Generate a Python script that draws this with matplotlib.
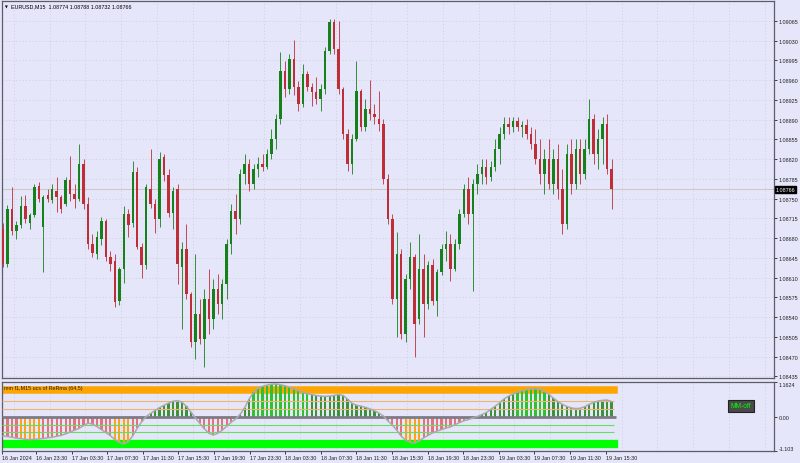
import matplotlib
matplotlib.use("Agg")
import matplotlib.pyplot as plt
import numpy as np
from matplotlib.transforms import blended_transform_factory

plt.rcParams["font.family"] = ["Liberation Sans", "DejaVu Sans"]

SYMBOL = "EURUSD,M15"
LAST_BAR = [1.08774, 1.08788, 1.08732, 1.08766]
LAST_PRICE = 1.08766
IND_NAME = "mm f1,M15 ucs of ReRma (64,5)"

# OHLC, one candle per half hour step on screen
opens = [
    1.08696, 1.08634, 1.08731, 1.08692, 1.08703, 1.08737, 1.08707, 1.08721, 1.08772, 1.08699,
    1.08756, 1.08747, 1.08763, 1.08753, 1.08740, 1.08783, 1.08758, 1.08749, 1.08811, 1.08740,
    1.08669, 1.08652, 1.08678, 1.08710, 1.08646, 1.08639, 1.08568, 1.08625, 1.08723, 1.08707,
    1.08797, 1.08665, 1.08632, 1.08767, 1.08740, 1.08714, 1.08823, 1.08792, 1.08724, 1.08767,
    1.08629, 1.08661, 1.08581, 1.08496, 1.08545, 1.08501, 1.08572, 1.08537, 1.08590, 1.08563,
    1.08598, 1.08669, 1.08728, 1.08714, 1.08793, 1.08811, 1.08776, 1.08802, 1.08811, 1.08806,
    1.08829, 1.08855, 1.08891, 1.08976, 1.08944, 1.08997, 1.08948, 1.08917, 1.08971, 1.08948,
    1.08939, 1.08926, 1.08944, 1.09011, 1.09062, 1.09015, 1.08944, 1.08864, 1.08811, 1.08855,
    1.08940, 1.08876, 1.08909, 1.08900, 1.08891, 1.08882, 1.08785, 1.08714, 1.08572, 1.08652,
    1.08510, 1.08607, 1.08646, 1.08537, 1.08625, 1.08563, 1.08632, 1.08568, 1.08620, 1.08661,
    1.08669, 1.08625, 1.08669, 1.08723, 1.08767, 1.08723, 1.08776, 1.08793, 1.08806, 1.08788,
    1.08806, 1.08838, 1.08864, 1.08882, 1.08876, 1.08887, 1.08876, 1.08880, 1.08864, 1.08847,
    1.08820, 1.08793, 1.08820, 1.08776, 1.08820, 1.08767, 1.08705, 1.08829, 1.08776, 1.08838,
    1.08793, 1.08838, 1.08891, 1.08829, 1.08855, 1.08882, 1.08802,
]
highs = [
    1.08707, 1.08738, 1.08770, 1.08710, 1.08754, 1.08756, 1.08724, 1.08776, 1.08779, 1.08756,
    1.08767, 1.08776, 1.08788, 1.08756, 1.08788, 1.08825, 1.08776, 1.08847, 1.08820, 1.08753,
    1.08687, 1.08692, 1.08717, 1.08714, 1.08657, 1.08652, 1.08629, 1.08737, 1.08731, 1.08816,
    1.08806, 1.08671, 1.08776, 1.08838, 1.08749, 1.08832, 1.08829, 1.08802, 1.08770, 1.08776,
    1.08673, 1.08705, 1.08584, 1.08652, 1.08572, 1.08590, 1.08625, 1.08607, 1.08616, 1.08607,
    1.08678, 1.08740, 1.08758, 1.08802, 1.08829, 1.08820, 1.08811, 1.08824, 1.08829, 1.08838,
    1.08873, 1.08900, 1.09010, 1.08994, 1.09006, 1.09031, 1.08958, 1.08988, 1.08976, 1.08955,
    1.08965, 1.08953, 1.09018, 1.09068, 1.09068, 1.09065, 1.08948, 1.08873, 1.08864, 1.08994,
    1.08944, 1.08926, 1.08960, 1.08917, 1.08940, 1.08891, 1.08793, 1.08723, 1.08691, 1.08661,
    1.08616, 1.08673, 1.08652, 1.08687, 1.08652, 1.08639, 1.08643, 1.08625, 1.08669, 1.08692,
    1.08687, 1.08678, 1.08731, 1.08776, 1.08788, 1.08785, 1.08811, 1.08820, 1.08820, 1.08816,
    1.08855, 1.08876, 1.08895, 1.08895, 1.08895, 1.08895, 1.08887, 1.08891, 1.08876, 1.08873,
    1.08855, 1.08838, 1.08855, 1.08838, 1.08847, 1.08802, 1.08847, 1.08855, 1.08855, 1.08855,
    1.08855, 1.08926, 1.08900, 1.08873, 1.08895, 1.08900, 1.08820,
]
lows = [
    1.08629, 1.08629, 1.08685, 1.08678, 1.08698, 1.08707, 1.08696, 1.08717, 1.08744, 1.08620,
    1.08744, 1.08742, 1.08726, 1.08724, 1.08737, 1.08746, 1.08733, 1.08746, 1.08731, 1.08661,
    1.08646, 1.08643, 1.08668, 1.08639, 1.08622, 1.08558, 1.08561, 1.08600, 1.08682, 1.08699,
    1.08661, 1.08609, 1.08625, 1.08733, 1.08689, 1.08699, 1.08781, 1.08717, 1.08696, 1.08598,
    1.08519, 1.08572, 1.08487, 1.08466, 1.08492, 1.08451, 1.08510, 1.08519, 1.08545, 1.08537,
    1.08572, 1.08652, 1.08687, 1.08705, 1.08776, 1.08763, 1.08767, 1.08788, 1.08799, 1.08802,
    1.08820, 1.08838, 1.08882, 1.08930, 1.08935, 1.08933, 1.08905, 1.08912, 1.08940, 1.08914,
    1.08917, 1.08905, 1.08935, 1.09006, 1.09006, 1.08935, 1.08855, 1.08799, 1.08793, 1.08852,
    1.08869, 1.08869, 1.08889, 1.08882, 1.08869, 1.08776, 1.08705, 1.08563, 1.08505, 1.08501,
    1.08496, 1.08590, 1.08469, 1.08528, 1.08505, 1.08554, 1.08561, 1.08541, 1.08614, 1.08639,
    1.08604, 1.08622, 1.08661, 1.08717, 1.08705, 1.08586, 1.08758, 1.08776, 1.08776, 1.08781,
    1.08799, 1.08811, 1.08855, 1.08864, 1.08868, 1.08869, 1.08859, 1.08855, 1.08838, 1.08811,
    1.08776, 1.08758, 1.08767, 1.08758, 1.08749, 1.08687, 1.08696, 1.08758, 1.08767, 1.08776,
    1.08785, 1.08829, 1.08811, 1.08802, 1.08811, 1.08793, 1.08731,
]
closes = [
    1.08634, 1.08731, 1.08692, 1.08703, 1.08737, 1.08714, 1.08721, 1.08770, 1.08749, 1.08753,
    1.08749, 1.08767, 1.08753, 1.08731, 1.08783, 1.08758, 1.08749, 1.08811, 1.08740, 1.08669,
    1.08653, 1.08682, 1.08710, 1.08646, 1.08634, 1.08567, 1.08625, 1.08723, 1.08703, 1.08797,
    1.08665, 1.08632, 1.08770, 1.08740, 1.08714, 1.08820, 1.08792, 1.08724, 1.08763, 1.08634,
    1.08661, 1.08581, 1.08496, 1.08545, 1.08501, 1.08572, 1.08537, 1.08590, 1.08563, 1.08598,
    1.08669, 1.08728, 1.08714, 1.08793, 1.08811, 1.08776, 1.08802, 1.08811, 1.08806, 1.08829,
    1.08855, 1.08891, 1.08976, 1.08944, 1.08997, 1.08948, 1.08917, 1.08971, 1.08948, 1.08939,
    1.08926, 1.08944, 1.09011, 1.09062, 1.09015, 1.08944, 1.08864, 1.08811, 1.08855, 1.08940,
    1.08876, 1.08909, 1.08900, 1.08895, 1.08882, 1.08785, 1.08714, 1.08572, 1.08652, 1.08510,
    1.08607, 1.08646, 1.08528, 1.08625, 1.08563, 1.08632, 1.08568, 1.08620, 1.08661, 1.08669,
    1.08625, 1.08669, 1.08723, 1.08767, 1.08723, 1.08776, 1.08793, 1.08806, 1.08788, 1.08806,
    1.08838, 1.08864, 1.08882, 1.08876, 1.08887, 1.08876, 1.08880, 1.08864, 1.08847, 1.08820,
    1.08793, 1.08820, 1.08776, 1.08820, 1.08767, 1.08705, 1.08829, 1.08776, 1.08838, 1.08793,
    1.08838, 1.08891, 1.08829, 1.08855, 1.08882, 1.08802, 1.08767,
]

# oscillator in the lower window
osc = [
    -0.61, -0.63, -0.65, -0.68, -0.70, -0.72, -0.73, -0.72, -0.71, -0.69,
    -0.67, -0.65, -0.62, -0.59, -0.54, -0.48, -0.42, -0.36, -0.27, -0.19,
    -0.22, -0.30, -0.40, -0.50, -0.60, -0.73, -0.82, -0.87, -0.80, -0.60,
    -0.36, -0.14, 0.03, 0.13, 0.23, 0.32, 0.40, 0.47, 0.53, 0.55,
    0.50, 0.36, 0.18, -0.02, -0.20, -0.37, -0.52, -0.58, -0.52, -0.42,
    -0.29, -0.16, -0.05, 0.10, 0.32, 0.60, 0.82, 0.96, 1.02, 1.06,
    1.09, 1.10, 1.07, 1.04, 0.99, 0.94, 0.88, 0.82, 0.78, 0.75,
    0.72, 0.70, 0.69, 0.70, 0.72, 0.75, 0.72, 0.60, 0.46, 0.40,
    0.37, 0.33, 0.28, 0.22, 0.14, 0.05, -0.11, -0.25, -0.42, -0.62,
    -0.75, -0.82, -0.84, -0.78, -0.67, -0.59, -0.51, -0.45, -0.40, -0.35,
    -0.31, -0.24, -0.17, -0.11, -0.07, -0.02, 0.03, 0.09, 0.16, 0.26,
    0.37, 0.48, 0.61, 0.70, 0.77, 0.83, 0.88, 0.91, 0.93, 0.94,
    0.92, 0.85, 0.76, 0.63, 0.52, 0.43, 0.36, 0.31, 0.29, 0.30,
    0.35, 0.43, 0.49, 0.54, 0.56, 0.57, 0.52,
]
OSC_MAX = 1.1624
OSC_MIN = -1.103
OSC_BAND_HI = 0.915
OSC_LINES_HI = [0.528, 0.275]
OSC_LINES_LO = [-0.24, -0.49]
OSC_BAND_LO = -0.87

price_ticks = [
    1.08435, 1.08470, 1.08505, 1.08540, 1.08575, 1.08610, 1.08645, 1.08680, 1.08715, 1.08750,
    1.08785, 1.08820, 1.08855, 1.08890, 1.08925, 1.08960, 1.08995, 1.09030, 1.09065,
]
time_labels = [
    "16 Jan 2024", "16 Jan 23:30", "17 Jan 03:30", "17 Jan 07:30", "17 Jan 11:30",
    "17 Jan 15:30", "17 Jan 19:30", "17 Jan 23:30", "18 Jan 03:30", "18 Jan 07:30",
    "18 Jan 11:30", "18 Jan 15:30", "18 Jan 19:30", "18 Jan 23:30", "19 Jan 03:30",
    "19 Jan 07:30", "19 Jan 11:30", "19 Jan 15:30",
]

BG = "#e6e6fa"
GRID = "#d0d0de"
FRAME = "#5c5c6a"
BULL = "#16801a"
BEAR = "#bd2e36"
FS = 3.9

o = np.array(opens)
h = np.array(highs)
l = np.array(lows)
c = np.array(closes)
v = np.array(osc)
x = np.arange(len(c))
XMIN, XMAX = -0.22, 172.3

fig = plt.figure(figsize=(8, 4.64), dpi=100, facecolor=BG)
ax = fig.add_axes([2 / 800, 85 / 464, 772 / 800, 377 / 464], facecolor=BG)
ax2 = fig.add_axes([2 / 800, 12 / 464, 772 / 800, 69 / 464], facecolor=BG)

grid_x = (11 + 35.75 * np.arange(22)) / 4.475
for a in (ax, ax2):
    a.set_xlim(XMIN, XMAX)
    for s in a.spines.values():
        s.set_color(FRAME)
        s.set_linewidth(0.9)
    a.vlines(grid_x, 0, 1, transform=blended_transform_factory(a.transData, a.transAxes),
             colors=GRID, lw=0.6, linestyles=(0, (1.5, 2.5)), zorder=0)

# main price window
ax.set_ylim(1.08432, 1.09100)
ax.hlines(price_ticks, XMIN, XMAX, colors=GRID, lw=0.6, linestyles=(0, (1.5, 2.5)), zorder=0)
ax.axhline(LAST_PRICE, color="#cfc5bd", lw=0.7, zorder=0.5)

up = c >= o
col = np.where(up, BULL, BEAR)
ax.vlines(x, l, h, colors=col, lw=0.6, zorder=2)
body = np.maximum(np.abs(c - o), 0.000012)
ax.bar(x, body, bottom=np.minimum(o, c), width=0.55, color=col, lw=0, zorder=3)

ax.yaxis.tick_right()
ax.set_yticks(price_ticks)
ax.set_yticklabels([f"{p:.5f}" for p in price_ticks])
ax.tick_params(axis="y", length=2, width=0.6, pad=1.5, labelsize=FS, colors="#202020")
ax.set_xticks([])

tr = blended_transform_factory(ax.transAxes, ax.transData)
ax.text(1.0025, LAST_PRICE, f"{LAST_PRICE:.5f}", transform=tr, ha="left", va="center",
        fontsize=FS, color="white",
        bbox=dict(boxstyle="square,pad=0.15", fc="black", ec="black"), zorder=5)

ax.text(0.004, 0.992, "\u25bc", transform=ax.transAxes, ha="left", va="top",
        fontsize=2.6, color="black", family=["DejaVu Sans"])
ax.text(0.012, 0.993, f"{SYMBOL}  " + " ".join(f"{p:.5f}" for p in LAST_BAR),
        transform=ax.transAxes, ha="left", va="top", fontsize=FS, color="black")

# oscillator window
ax2.set_ylim(OSC_MIN, OSC_MAX)
ax2.axhline(OSC_BAND_HI, xmin=0, xmax=(136.6 - XMIN) / (XMAX - XMIN), color="#ffa500", lw=5.4, zorder=1)
ax2.axhline(OSC_BAND_LO, xmin=0, xmax=(136.6 - XMIN) / (XMAX - XMIN), color="#00ff00", lw=6.0, zorder=1)

bar_col = []
for val in v:
    if val > 0.775:
        bar_col.append("#2fc22f")
    elif val >= 0:
        bar_col.append("#3b923b")
    elif val < -0.695:
        bar_col.append("#ffa21a")
    else:
        bar_col.append("#e8707e")
ax2.bar(x, v, width=0.5, color=bar_col, lw=0, zorder=2)

ax2.hlines(OSC_LINES_HI, XMIN, 136.6, colors="#f2b468", lw=0.8, zorder=3)
ax2.hlines(OSC_LINES_LO, XMIN, 136.6, colors="#5fe35f", lw=0.8, zorder=3)
ax2.hlines([0], XMIN, 136.9, colors="#7c7c84", lw=2.0, zorder=3)
ax2.plot(x, v, color="#a9a9b0", lw=1.1, zorder=4)

ax2.yaxis.tick_right()
ax2.set_yticks([OSC_MAX, 0, OSC_MIN])
ax2.set_yticklabels([f"{OSC_MAX:.4f}", "0.00", f"{OSC_MIN:.3f}"])
ax2.tick_params(axis="y", length=2, width=0.6, pad=1.5, labelsize=FS, colors="#202020")
ylab = ax2.get_yticklabels()
ylab[0].set_va("top")
ylab[2].set_va("bottom")

time_pos = [-0.2] + [(33 + 35.6 * j) / 4.475 for j in range(len(time_labels) - 1)]
ax2.set_xticks(time_pos)
ax2.set_xticklabels(time_labels)
ax2.tick_params(axis="x", length=2, width=0.6, pad=1.0, labelsize=FS, colors="#202020")
for t in ax2.get_xticklabels():
    t.set_ha("left")

ax2.text(0.003, 0.95, IND_NAME, transform=ax2.transAxes, ha="left", va="top",
         fontsize=FS, color="#202020", zorder=6)

fig.text(741 / 800, 1 - 407 / 464, "MM-off", ha="center", va="center", fontsize=4.8,
         color="#00ff00", bbox=dict(boxstyle="square,pad=0.35", fc="#4a4a4a", ec="#222222", lw=0.8))

fig.savefig("out.png", dpi=100, facecolor=BG)
